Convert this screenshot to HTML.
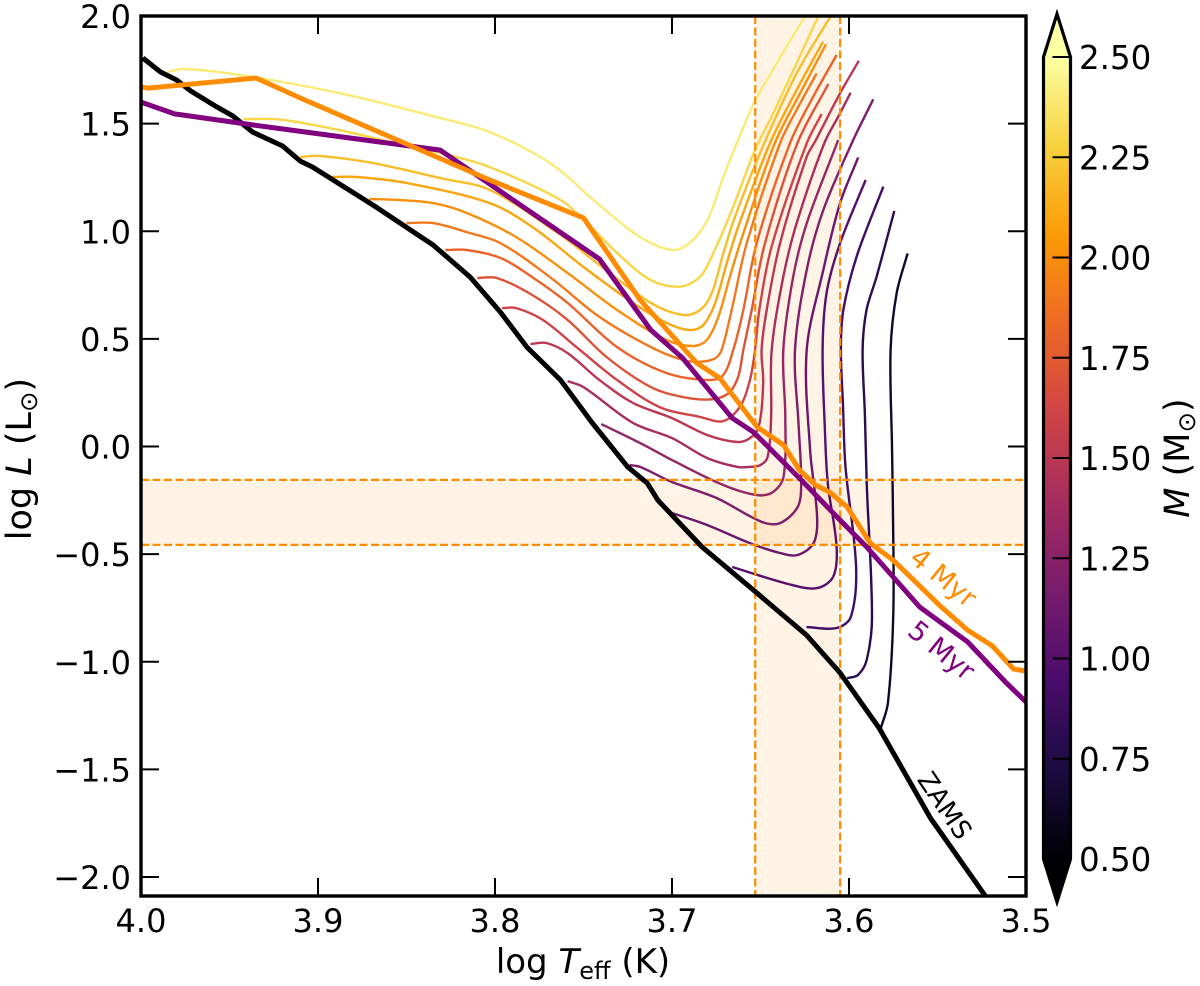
<!DOCTYPE html>
<html lang="en">
<head>
<meta charset="utf-8">
<title>HR diagram with pre-main-sequence tracks</title>
<style>
html,body{margin:0;padding:0;background:#fff;}
svg{display:block;}
text{font-family:"DejaVu Sans","Liberation Sans",sans-serif;fill:#000;}
</style>
</head>
<body>
<svg id="chart" xmlns="http://www.w3.org/2000/svg" width="1200" height="986" viewBox="0 0 1200 986">
  <defs>
    <clipPath id="plot-clip"><rect x="141" y="16" width="885" height="880"></rect></clipPath>
    <linearGradient id="cbar-gradient" x1="0" y1="1" x2="0" y2="0"></linearGradient>
  </defs>
  <rect x="0" y="0" width="1200" height="986" fill="#fff"></rect>
  <g id="bands" clip-path="url(#plot-clip)"></g>
  <g id="tracks" clip-path="url(#plot-clip)"></g>
  <g id="limits" clip-path="url(#plot-clip)"></g>
  <g id="curves" clip-path="url(#plot-clip)"></g>
  <text transform="translate(943,578) rotate(39)" text-anchor="middle" dominant-baseline="central" font-size="27" style="fill:#ff8c00">4 Myr</text>
  <text transform="translate(941,651) rotate(39)" text-anchor="middle" dominant-baseline="central" font-size="27" style="fill:#800080">5 Myr</text>
  <text transform="translate(944,806) rotate(56)" text-anchor="middle" dominant-baseline="central" font-size="26">ZAMS</text>
  <g id="axes"></g>
  <text x="583" y="973" text-anchor="middle" font-size="34">log <tspan font-style="oblique">T</tspan><tspan font-size="24" dy="6">eff</tspan><tspan dy="-6"> (K)</tspan></text>
  <text transform="translate(31,459) rotate(-90)" text-anchor="middle" font-size="35">log <tspan font-style="oblique">L</tspan> (L<tspan font-size="24.5" dy="6">⊙</tspan><tspan dy="-6">)</tspan></text>
  <g id="colorbar"></g>
  <text transform="translate(1189,458) rotate(-90)" text-anchor="middle" font-size="35"><tspan font-style="oblique">M</tspan> (M<tspan font-size="24.5" dy="6">⊙</tspan><tspan dy="-6">)</tspan></text>
</svg>
<script>
var SVGNS = 'http://www.w3.org/2000/svg';

// ---- axis ranges and ticks ----
var xDomain = [4.0, 3.5];
var yDomain = [2.0, -2.0];
var xTicks = [4.0, 3.9, 3.8, 3.7, 3.6, 3.5];
var yTicks = [2.0, 1.5, 1.0, 0.5, 0.0, -0.5, -1.0, -1.5, -2.0];
var cbarTicks = [0.5, 0.75, 1.0, 1.25, 1.5, 1.75, 2.0, 2.25, 2.5];
var cbarDomain = [0.5, 2.5];
var infernoStops = ['#000004', '#1b0c41', '#4a0c6b', '#781c6d', '#a52c60', '#cf4446', '#ed6925', '#fb9b06', '#f7d13d', '#fcffa4'];

// ---- observed ranges ----
var tempRange = [3.653, 3.605];
var lumRange = [-0.155, -0.457];

// ---- stellar masses of each evolutionary track ----
var trackMasses = [2.4, 2.3, 2.2, 2.1, 2.0, 1.9, 1.8, 1.7, 1.6, 1.5, 1.4, 1.3, 1.2, 1.1, 1.0, 0.9, 0.8, 0.65];

// ---- evolutionary tracks: [log Teff, log L] ----
var track24 = [[3.985,1.740],[3.976,1.754],[3.944,1.726],[3.888,1.642],[3.831,1.526],[3.803,1.461],[3.769,1.317],[3.741,1.122],[3.718,0.973],[3.700,0.913],[3.690,0.945],[3.680,1.052],[3.671,1.252],[3.662,1.438],[3.652,1.624],[3.643,1.749],[3.633,1.889],[3.624,2.009]];
var track23 = [[3.942,1.521],[3.925,1.521],[3.912,1.508],[3.888,1.470],[3.859,1.415],[3.831,1.364],[3.803,1.298],[3.763,1.145],[3.748,1.038],[3.731,0.899],[3.712,0.773],[3.6955,0.7424],[3.6842,0.7888],[3.6767,0.8972],[3.6654,1.1141],[3.6531,1.3773],[3.6428,1.5477],[3.6183,1.9813],[3.616,2.02]];
var track22 = [[3.910,1.345],[3.899,1.350],[3.869,1.317],[3.831,1.247],[3.803,1.192],[3.763,0.983],[3.741,0.843],[3.712,0.667],[3.6936,0.6107],[3.6842,0.634],[3.6776,0.7114],[3.671,0.8972],[3.6644,1.0676],[3.6479,1.4083],[3.6296,1.7335],[3.6117,1.9813],[3.609,2.02]];
var track21 = [[3.892,1.252],[3.878,1.252],[3.850,1.224],[3.803,1.131],[3.779,1.020],[3.750,0.834],[3.722,0.667],[3.703,0.574],[3.6899,0.541],[3.6823,0.5643],[3.6757,0.6649],[3.6691,0.8508],[3.6626,1.0211],[3.6447,1.4083],[3.6296,1.6561],[3.6147,1.8807]];
var track20 = [[3.871,1.150],[3.854,1.145],[3.835,1.131],[3.816,1.085],[3.788,0.973],[3.759,0.806],[3.731,0.634],[3.703,0.495],[3.688,0.4667],[3.6804,0.4946],[3.6738,0.603],[3.6673,0.7888],[3.6597,0.9902],[3.642,1.4083],[3.6277,1.6406],[3.613,1.8683]];
var track19 = [[3.850,1.038],[3.835,1.038],[3.816,0.996],[3.797,0.945],[3.769,0.787],[3.741,0.602],[3.712,0.462],[3.694,0.402],[3.6842,0.3939],[3.6757,0.4094],[3.672,0.4481],[3.6663,0.634],[3.6578,0.9437],[3.639,1.4083],[3.6296,1.5632],[3.6183,1.7335]];
var track18 = [[3.828,0.913],[3.816,0.913],[3.797,0.876],[3.779,0.787],[3.759,0.667],[3.731,0.462],[3.703,0.341],[3.6786,0.3087],[3.671,0.332],[3.6654,0.4481],[3.6597,0.634],[3.6522,0.9437],[3.6334,1.4083],[3.6202,1.6251],[3.607,1.8187]];
var track17 = [[3.810,0.783],[3.799,0.783],[3.779,0.704],[3.759,0.588],[3.737,0.416],[3.712,0.276],[3.694,0.230],[3.6786,0.2189],[3.6682,0.2468],[3.6626,0.3242],[3.6597,0.4481],[3.655,0.634],[3.6475,0.9437],[3.6292,1.4083],[3.6117,1.684]];
var track16 = [[3.796,0.643],[3.788,0.643],[3.773,0.588],[3.754,0.462],[3.731,0.309],[3.707,0.183],[3.684,0.137],[3.671,0.118],[3.6616,0.1848],[3.656,0.3087],[3.6531,0.4481],[3.6507,0.634],[3.6432,0.9437],[3.6239,1.4083],[3.6155,1.5446]];
var track15 = [[3.780,0.476],[3.771,0.481],[3.759,0.434],[3.741,0.309],[3.722,0.202],[3.700,0.132],[3.680,0.053],[3.663,0.021],[3.656,0.039],[3.651,0.091],[3.6485,0.295],[3.6494,0.4481],[3.6465,0.634],[3.639,0.9437],[3.6239,1.3464],[3.6187,1.4238],[3.6051,1.6406],[3.5944,1.7924]];
var track14 = [[3.759,0.304],[3.750,0.276],[3.722,0.109],[3.700,0.039],[3.680,-0.054],[3.663,-0.095],[3.656,-0.095],[3.650,-0.086],[3.646,-0.049],[3.644,0.137],[3.6437,0.4481],[3.6371,0.7888],[3.6296,1.0366],[3.614,1.4083],[3.6051,1.5477],[3.5991,1.6437]];
var track13 = [[3.740,0.104],[3.718,0.016],[3.700,-0.063],[3.671,-0.179],[3.652,-0.226],[3.643,-0.212],[3.637,-0.142],[3.636,0.137],[3.6371,0.4481],[3.6315,0.7888],[3.6239,1.0366],[3.6061,1.4238]];
var track12 = [[3.724,-0.086],[3.718,-0.095],[3.700,-0.165],[3.675,-0.239],[3.649,-0.351],[3.639,-0.356],[3.629,-0.281],[3.627,-0.170],[3.6285,0.1],[3.6305,0.4481],[3.6239,0.8198],[3.6145,1.0986],[3.5976,1.4238],[3.5863,1.6128]];
var track11 = [[3.700,-0.309],[3.680,-0.365],[3.656,-0.449],[3.639,-0.495],[3.629,-0.504],[3.620,-0.449],[3.618,-0.328],[3.622,-0.016],[3.6239,0.4481],[3.6145,0.8198],[3.6051,1.1296],[3.5948,1.3433]];
var track10 = [[3.666,-0.560],[3.632,-0.644],[3.618,-0.658],[3.609,-0.606],[3.607,-0.467],[3.612,-0.170],[3.6136,0.077],[3.6149,0.4481],[3.6127,0.7114],[3.6051,0.9437],[3.5906,1.238]];
var track09 = [[3.624,-0.839],[3.607,-0.843],[3.599,-0.792],[3.596,-0.560],[3.602,-0.095],[3.6034,0.193],[3.6046,0.4481],[3.6032,0.634],[3.5957,0.8818],[3.5806,1.207]];
var track08 = [[3.601,-1.076],[3.595,-1.062],[3.590,-0.992],[3.587,-0.792],[3.590,-0.170],[3.591,0.146],[3.5923,0.4481],[3.5901,0.634],[3.5844,0.7888],[3.5744,1.0939]];
var track065 = [[3.582,-1.308],[3.578,-1.192],[3.575,-0.792],[3.575,-0.402],[3.5757,0.0],[3.5765,0.4481],[3.5731,0.7114],[3.5669,0.8972]];
var allTracks = [track24, track23, track22, track21, track20, track19, track18, track17, track16, track15, track14, track13, track12, track11, track10, track09, track08, track065];

// ---- thick curves: [log Teff, log L] ----
var zamsCurve = [[3.999,1.805],[3.989,1.740],[3.980,1.703],[3.972,1.652],[3.957,1.577],[3.948,1.535],[3.937,1.461],[3.920,1.396],[3.910,1.326],[3.903,1.298],[3.869,1.122],[3.835,0.936],[3.814,0.787],[3.797,0.625],[3.782,0.462],[3.763,0.309],[3.745,0.109],[3.725,-0.095],[3.714,-0.170],[3.708,-0.249],[3.683,-0.467],[3.652,-0.681],[3.624,-0.876],[3.605,-1.052],[3.583,-1.308],[3.554,-1.726],[3.523,-2.088],[3.520,-2.13]];
var isochrone4 = [[4.000,1.670],[3.996,1.665],[3.935,1.712],[3.910,1.619],[3.803,1.238],[3.750,1.062],[3.718,0.681],[3.686,0.388],[3.673,0.318],[3.652,0.091],[3.637,0.007],[3.628,-0.109],[3.619,-0.179],[3.611,-0.212],[3.601,-0.281],[3.588,-0.449],[3.575,-0.528],[3.549,-0.737],[3.533,-0.853],[3.519,-0.927],[3.507,-1.034],[3.500,-1.043]];
var isochrone5 = [[4.000,1.600],[3.981,1.545],[3.937,1.494],[3.831,1.377],[3.741,0.871],[3.712,0.541],[3.694,0.411],[3.666,0.132],[3.654,0.067],[3.628,-0.147],[3.605,-0.342],[3.590,-0.467],[3.560,-0.746],[3.533,-0.908],[3.511,-1.099],[3.500,-1.187]];

// ---- axis functions ----
var plot = {left: 141, right: 1026, top: 16, bottom: 896};
var yAt2 = 16, yAtMinus2 = 877;
function xScale(t) { return plot.left + (t - xDomain[0]) / (xDomain[1] - xDomain[0]) * (plot.right - plot.left); }
function yScale(l) { return yAt2 + (l - yDomain[0]) / (yDomain[1] - yDomain[0]) * (yAtMinus2 - yAt2); }
var cbar = {left: 1043.5, right: 1070.5, top: 57, bottom: 859, tipTop: 14, tipBottom: 902};
function cbarScale(m) { return cbar.bottom - (m - cbarDomain[0]) / (cbarDomain[1] - cbarDomain[0]) * (cbar.bottom - cbar.top); }

function hexToRgb(h) { return [parseInt(h.substr(1, 2), 16), parseInt(h.substr(3, 2), 16), parseInt(h.substr(5, 2), 16)]; }
function inferno(t) {
  t = Math.max(0, Math.min(1, t));
  var f = t * (infernoStops.length - 1);
  var i = Math.min(infernoStops.length - 2, Math.floor(f));
  var a = hexToRgb(infernoStops[i]), b = hexToRgb(infernoStops[i + 1]);
  var u = f - i;
  return 'rgb(' + [0, 1, 2].map(function (k) { return Math.round(a[k] + (b[k] - a[k]) * u); }).join(',') + ')';
}
function massColor(m) { return inferno((m - cbarDomain[0]) / (cbarDomain[1] - cbarDomain[0])); }

function el(tag, parent, attrs) {
  var e = document.createElementNS(SVGNS, tag);
  for (var k in attrs) { e.setAttribute(k, attrs[k]); }
  parent.appendChild(e);
  return e;
}
function polyPath(pts) {
  return pts.map(function (p, i) { return (i ? 'L' : 'M') + xScale(p[0]).toFixed(1) + ' ' + yScale(p[1]).toFixed(1); }).join('');
}
function dist(a, b) { return Math.sqrt((a[0] - b[0]) * (a[0] - b[0]) + (a[1] - b[1]) * (a[1] - b[1])); }
function smoothPath(pts) {
  var P = pts.map(function (p) { return [xScale(p[0]), yScale(p[1])]; });
  var d = 'M' + P[0][0].toFixed(1) + ' ' + P[0][1].toFixed(1);
  for (var i = 0; i < P.length - 1; i++) {
    var p0 = P[Math.max(0, i - 1)], p1 = P[i], p2 = P[i + 1], p3 = P[Math.min(P.length - 1, i + 2)];
    var d12 = dist(p1, p2);
    var f1 = d12 / (3 * (dist(p0, p1) + d12));
    var f2 = d12 / (3 * (d12 + dist(p2, p3)));
    var c1x = p1[0] + (p2[0] - p0[0]) * f1, c1y = p1[1] + (p2[1] - p0[1]) * f1;
    var c2x = p2[0] - (p3[0] - p1[0]) * f2, c2y = p2[1] - (p3[1] - p1[1]) * f2;
    d += 'C' + c1x.toFixed(1) + ' ' + c1y.toFixed(1) + ' ' + c2x.toFixed(1) + ' ' + c2y.toFixed(1) + ' ' + p2[0].toFixed(1) + ' ' + p2[1].toFixed(1);
  }
  return d;
}
function fmt(v, n) { return (v < 0 ? '\u2212' : '') + Math.abs(v).toFixed(n); }

// ---- bands ----
var bandsG = document.getElementById('bands');
var vBand = el('rect', bandsG, {x: xScale(tempRange[0]), y: plot.top, width: xScale(tempRange[1]) - xScale(tempRange[0]), height: plot.bottom - plot.top, fill: '#ff8c00', 'fill-opacity': 0.1});


var hBand = el('rect', bandsG, {x: plot.left, y: yScale(lumRange[0]), width: plot.right - plot.left, height: yScale(lumRange[1]) - yScale(lumRange[0]), fill: '#ff8c00', 'fill-opacity': 0.1});



// ---- tracks ----
var tracksG = document.getElementById('tracks');
allTracks.forEach(function (pts, i) {
  var p = el('path', tracksG, {d: smoothPath(pts), fill: 'none', stroke: massColor(trackMasses[i]), 'stroke-width': 2.4, 'stroke-linejoin': 'round', 'stroke-linecap': 'butt'});
  
  
});

// ---- limit lines ----
var limitsG = document.getElementById('limits');
tempRange.forEach(function (t) {
  var ln = el('line', limitsG, {x1: xScale(t), x2: xScale(t), y1: plot.top, y2: plot.bottom, stroke: '#ff8c00', 'stroke-width': 2.2, 'stroke-dasharray': '8 3.5'});
  
  
});
lumRange.forEach(function (l) {
  var ln = el('line', limitsG, {x1: plot.left, x2: plot.right, y1: yScale(l), y2: yScale(l), stroke: '#ff8c00', 'stroke-width': 2.2, 'stroke-dasharray': '8 3.5'});
  
  
});

// ---- thick curves ----
var curvesG = document.getElementById('curves');
var zamsPath = el('path', curvesG, {d: polyPath(zamsCurve), fill: 'none', stroke: '#000', 'stroke-width': 5, 'stroke-linejoin': 'round'});


var iso5Path = el('path', curvesG, {d: polyPath(isochrone5), fill: 'none', stroke: '#800080', 'stroke-width': 5, 'stroke-linejoin': 'round'});


var iso4Path = el('path', curvesG, {d: polyPath(isochrone4), fill: 'none', stroke: '#ff8c00', 'stroke-width': 5, 'stroke-linejoin': 'round'});



// ---- axes ----
var axesG = document.getElementById('axes');
var frame = el('rect', axesG, {x: plot.left, y: plot.top, width: plot.right - plot.left, height: plot.bottom - plot.top, fill: 'none', stroke: '#000', 'stroke-width': 3.4});


var tickLen = 18;
xTicks.forEach(function (t) {
  var x = xScale(t);
  var a = el('line', axesG, {x1: x, x2: x, y1: plot.bottom, y2: plot.bottom - tickLen, stroke: '#000', 'stroke-width': 2});
  
  
  var b = el('line', axesG, {x1: x, x2: x, y1: plot.top, y2: plot.top + tickLen, stroke: '#000', 'stroke-width': 2});
  
  
  var tx = el('text', axesG, {x: x, y: 932, 'text-anchor': 'middle', 'font-size': 32});
  
  
  tx.textContent = fmt(t, 1);
});
yTicks.forEach(function (l) {
  var y = yScale(l);
  var a = el('line', axesG, {x1: plot.left, x2: plot.left + tickLen, y1: y, y2: y, stroke: '#000', 'stroke-width': 2});
  
  
  var b = el('line', axesG, {x1: plot.right, x2: plot.right - tickLen, y1: y, y2: y, stroke: '#000', 'stroke-width': 2});
  
  
  var tx = el('text', axesG, {x: 131, y: y + 12, 'text-anchor': 'end', 'font-size': 32});
  
  
  tx.textContent = fmt(l, 1);
});

// ---- colorbar ----
var grad = document.getElementById('cbar-gradient');
infernoStops.forEach(function (c, i) {
  el('stop', grad, {offset: i / (infernoStops.length - 1), 'stop-color': c});
});
var cbarG = document.getElementById('colorbar');
var cbarTop = el('polygon', cbarG, {points: cbar.left + ',' + cbar.top + ' ' + (cbar.left + cbar.right) / 2 + ',' + cbar.tipTop + ' ' + cbar.right + ',' + cbar.top, fill: infernoStops[9]});


var cbarBottom = el('polygon', cbarG, {points: cbar.left + ',' + cbar.bottom + ' ' + (cbar.left + cbar.right) / 2 + ',' + cbar.tipBottom + ' ' + cbar.right + ',' + cbar.bottom, fill: infernoStops[0]});


var cbarBody = el('rect', cbarG, {x: cbar.left, y: cbar.top, width: cbar.right - cbar.left, height: cbar.bottom - cbar.top, fill: 'url(#cbar-gradient)'});


var cbarOutline = el('polygon', cbarG, {points: [cbar.left + ',' + cbar.top, (cbar.left + cbar.right) / 2 + ',' + cbar.tipTop, cbar.right + ',' + cbar.top, cbar.right + ',' + cbar.bottom, (cbar.left + cbar.right) / 2 + ',' + cbar.tipBottom, cbar.left + ',' + cbar.bottom].join(' '), fill: 'none', stroke: '#000', 'stroke-width': 3.2, 'stroke-linejoin': 'miter'});


cbarTicks.forEach(function (m) {
  var y = cbarScale(m);
  var t = el('line', cbarG, {x1: cbar.right, x2: cbar.right - 18, y1: y, y2: y, stroke: '#000', 'stroke-width': 2});
  
  
  var tx = el('text', cbarG, {x: 1079, y: y + 12, 'font-size': 32.5});
  
  
  tx.textContent = m.toFixed(2);
});
</script>
</body>
</html>
